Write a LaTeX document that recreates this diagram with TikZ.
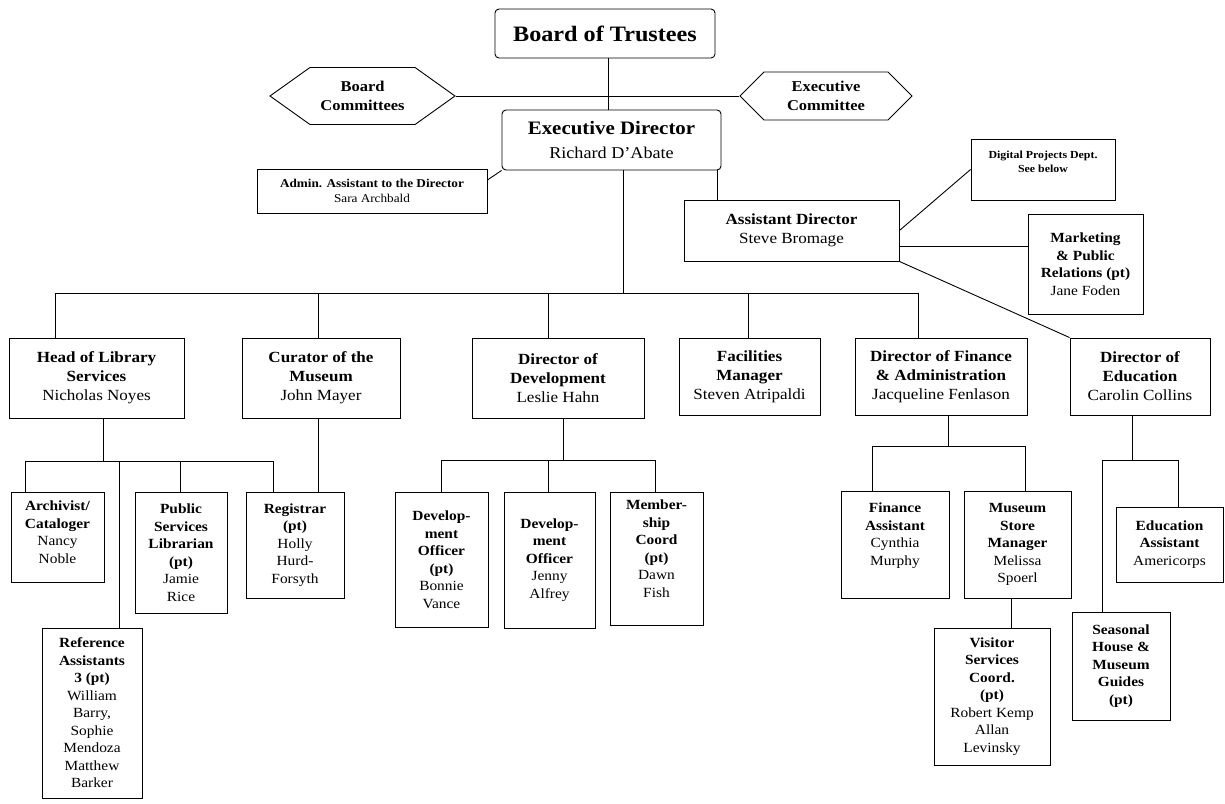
\documentclass[tikz,border=0pt]{standalone}
\usepackage{fontspec}
\setmainfont{Liberation Serif}[FakeStretch=1.1]
\usetikzlibrary{shapes.symbols}

\begin{document}
\begin{tikzpicture}[
    x=1pt, y=-1pt,
    line width=0.9pt,
    box/.style={draw, align=center, inner sep=1pt},
    rbox/.style={box, rounded corners=4pt},
    hexbox/.style={draw, shape=signal, signal to=west and east, align=center,
                   inner sep=0pt, font=\fontsize{15}{18.5}\selectfont\bfseries},
    toptext/.style={font=\fontsize{15.5}{19}\selectfont},
    midtext/.style={font=\fontsize{15.5}{19}\selectfont},
    lowtext/.style={font=\fontsize{14}{17.5}\selectfont}
]
\path[use as bounding box, fill=white] (0,0) rectangle (1225,803);

%--------
% TOP: board, committees, directors
%--------
\node[rbox, font=\fontsize{22}{27}\selectfont\bfseries,
      minimum width=220, minimum height=49] (trustees) at (605,33.5) {Board of Trustees};
\node[hexbox, minimum width=185, minimum height=57, signal pointer angle=71]
    (bcomm) at (362.5,96) {Board\\Committees};
\node[hexbox, minimum width=172, minimum height=48, signal pointer angle=90]
    (ecomm) at (826,96) {Executive\\Committee};
\node[rbox, font=\fontsize{16.5}{24}\selectfont, minimum width=219, minimum height=60]
    (execdir) at (611.5,140)
    {{\fontsize{19}{24}\selectfont\bfseries Executive Director}\\Richard D'Abate};
\node[box, font=\fontsize{12}{15.5}\selectfont, minimum width=230, minimum height=44]
    (admin) at (372,191) {\textbf{Admin. Assistant to the Director}\\Sara Archbald};
\node[box, toptext, minimum width=215, minimum height=61]
    (asstdir) at (791.5,230.5) {\textbf{Assistant Director}\\Steve Bromage};
\node[box, font=\fontsize{10.8}{14.5}\selectfont\bfseries, minimum width=144, minimum height=61,
      text depth=15pt]
    (digital) at (1043,169.5) {Digital Projects Dept.\\See below};
\node[box, lowtext, minimum width=115, minimum height=100]
    (market) at (1085.5,264)
    {\textbf{Marketing}\\\textbf{\& Public}\\\textbf{Relations (pt)}\\Jane Foden};

\draw (trustees.south -| 608,0) -- (execdir.north -| 608,0);
\draw (bcomm.east) -- (ecomm.west);
\draw ([yshift=11pt]admin.east) -- (execdir.south west);
\draw (execdir.south -| 717,0) -- (asstdir.north -| 717,0);
\draw (asstdir.east) -- (digital.west);
\draw (asstdir.east |- 0,246) -- (market.west |- 0,246);

%--------
% DEPARTMENT HEADS
%--------
\node[box, midtext, minimum width=175, minimum height=80] (library) at (96.5,378)
    {\textbf{Head of Library}\\\textbf{Services}\\Nicholas Noyes};
\node[box, midtext, minimum width=158, minimum height=80] (curator) at (321,378)
    {\textbf{Curator of the}\\\textbf{Museum}\\John Mayer};
\node[box, midtext, minimum width=172, minimum height=80] (devdir) at (558,378)
    {\textbf{Director of}\\\textbf{Development}\\Leslie Hahn};
\node[box, midtext, minimum width=141, minimum height=77] (facil) at (749.5,376.5)
    {\textbf{Facilities}\\\textbf{Manager}\\Steven Atripaldi};
\node[box, midtext, minimum width=172, minimum height=77] (findir) at (941,376.5)
    {\textbf{Director of Finance}\\\textbf{\& Administration}\\Jacqueline Fenlason};
\node[box, midtext, minimum width=140, minimum height=77] (edudir) at (1140,376.5)
    {\textbf{Director of}\\\textbf{Education}\\Carolin Collins};

% main bus under the executive director
\coordinate (bus) at (623,293);
\draw (execdir.south -| bus) -- (bus);
\draw (55,293) -- (918,293);
\foreach \xx/\nn in {55/library, 318/curator, 548/devdir, 748/facil, 918/findir}
    \draw (\xx,293) -- (\nn.north -| \xx,0);
\draw (asstdir.south east) -- (edudir.north west);

%--------
% STAFF
%--------
\node[box, lowtext, minimum width=93, minimum height=90, text depth=10pt] (archivist) at (57.5,537)
    {\textbf{Archivist/}\\\textbf{Cataloger}\\Nancy\\Noble};
\node[box, lowtext, minimum width=92, minimum height=121] (pubserv) at (181,552.5)
    {\textbf{Public}\\\textbf{Services}\\\textbf{Librarian}\\\textbf{(pt)}\\Jamie\\Rice};
\node[box, lowtext, minimum width=98, minimum height=106] (registrar) at (295,545)
    {\textbf{Registrar}\\\textbf{(pt)}\\Holly\\Hurd-\\Forsyth};
\node[box, lowtext, minimum width=100, minimum height=170] (refasst) at (92,713)
    {\textbf{Reference}\\\textbf{Assistants}\\\textbf{3 (pt)}\\William\\Barry,\\Sophie\\Mendoza\\Matthew\\Barker};
\node[box, lowtext, minimum width=93, minimum height=135] (devoff1) at (441.5,559.5)
    {\textbf{Develop-}\\\textbf{ment}\\\textbf{Officer}\\\textbf{(pt)}\\Bonnie\\Vance};
\node[box, lowtext, minimum width=91, minimum height=136] (devoff2) at (549.5,560)
    {\textbf{Develop-}\\\textbf{ment}\\\textbf{Officer}\\Jenny\\Alfrey};
\node[box, lowtext, minimum width=93, minimum height=133, text depth=20pt] (member) at (656.5,558.5)
    {\textbf{Member-}\\\textbf{ship}\\\textbf{Coord}\\\textbf{(pt)}\\Dawn\\Fish};
\node[box, lowtext, minimum width=108, minimum height=107, text depth=21pt] (finasst) at (895,544.5)
    {\textbf{Finance}\\\textbf{Assistant}\\Cynthia\\Murphy};
\node[box, lowtext, minimum width=107, minimum height=107] (storemgr) at (1017.5,544.5)
    {\textbf{Museum}\\\textbf{Store}\\\textbf{Manager}\\Melissa\\Spoerl};
\node[box, lowtext, minimum width=116, minimum height=137] (visitor) at (992,696.5)
    {\textbf{Visitor}\\\textbf{Services}\\\textbf{Coord.}\\\textbf{(pt)}\\Robert Kemp\\Allan\\Levinsky};
\node[box, lowtext, minimum width=107, minimum height=75] (eduasst) at (1169.5,544.5)
    {\textbf{Education}\\\textbf{Assistant}\\Americorps};
\node[box, lowtext, minimum width=98, minimum height=108] (seasonal) at (1121,666)
    {\textbf{Seasonal}\\\textbf{House \&}\\\textbf{Museum}\\\textbf{Guides}\\\textbf{(pt)}};

% library staff
\draw (library.south -| 103,0) -- (103,461);
\draw (25,461) -- (273,461);
\foreach \xx/\nn in {25/archivist, 119/refasst, 180/pubserv, 273/registrar}
    \draw (\xx,461) -- (\nn.north -| \xx,0);
\draw (curator.south -| 318,0) -- (registrar.north -| 318,0);

% development staff
\draw (devdir.south -| 563,0) -- (563,460);
\draw (441,460) -- (655,460);
\foreach \xx/\nn in {441/devoff1, 548/devoff2, 655/member}
    \draw (\xx,460) -- (\nn.north -| \xx,0);

% finance staff
\draw (findir.south -| 948,0) -- (948,446);
\draw (872,446) -- (1025,446);
\foreach \xx/\nn in {872/finasst, 1025/storemgr}
    \draw (\xx,446) -- (\nn.north -| \xx,0);
\draw (storemgr.south -| 1011,0) -- (visitor.north -| 1011,0);

% education staff
\draw (edudir.south -| 1132,0) -- (1132,460);
\draw (1102,460) -- (1178,460);
\foreach \xx/\nn in {1178/eduasst, 1102/seasonal}
    \draw (\xx,460) -- (\nn.north -| \xx,0);

\end{tikzpicture}
\end{document}
